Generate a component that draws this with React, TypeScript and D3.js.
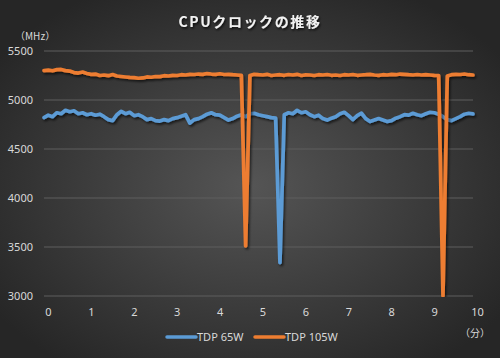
import React from "react";
import * as d3 from "d3";

const timeMin: number[] = d3.range(0, 101).map((i) => i / 10);

const tdp105: number[] = [
  5300, 5305, 5298, 5310, 5312, 5300, 5295, 5280, 5275, 5285,
  5270, 5262, 5265, 5250, 5255, 5248, 5260, 5245, 5240, 5235,
  5230, 5228, 5222, 5225, 5235, 5232, 5240, 5238, 5248, 5245,
  5252, 5250, 5258, 5255, 5262, 5260, 5265, 5262, 5270, 5265,
  5262, 5268, 5260, 5262, 5258, 5255, 5252, 3510, 5250, 5262,
  5258, 5255, 5262, 5250, 5255, 5258, 5252, 5260, 5255, 5262,
  5250, 5256, 5255, 5250, 5258, 5255, 5260, 5252, 5255, 5250,
  5258, 5255, 5260, 5252, 5255, 5258, 5262, 5255, 5252, 5258,
  5255, 5262, 5258, 5265, 5262, 5258, 5255, 5260, 5255, 5258,
  5255, 5252, 5250, 3000, 5245, 5258, 5262, 5260, 5265, 5258,
  5255,
];

const tdp65: number[] = [
  4820, 4845, 4830, 4870, 4860, 4895, 4880, 4890, 4860, 4870,
  4850, 4860, 4845, 4855, 4830, 4800, 4790, 4850, 4885, 4860,
  4875, 4840, 4850, 4830, 4800, 4810, 4790, 4785, 4800, 4790,
  4810, 4820, 4835, 4850, 4765, 4800, 4810, 4830, 4855, 4870,
  4850, 4845, 4820, 4795, 4810, 4835, 4850, 4830, 4860, 4865,
  4850, 4840, 4830, 4820, 4815, 3340, 4850, 4870, 4860, 4895,
  4870, 4880, 4850, 4830, 4845, 4810, 4795, 4815, 4830, 4860,
  4875, 4840, 4800, 4840, 4865, 4810, 4780, 4795, 4810, 4795,
  4780, 4790, 4815, 4830, 4850, 4845, 4865, 4850, 4840, 4860,
  4875, 4870, 4855, 4830, 4800, 4790, 4810, 4830, 4855, 4865,
  4858,
];

const yTicks: number[] = [3000, 3500, 4000, 4500, 5000, 5500];
const xTicks: number[] = [0, 1, 2, 3, 4, 5, 6, 7, 8, 9, 10];

const seriesNames = ["TDP 65W", "TDP 105W"];
const seriesColors = ["#5b9bd5", "#ed7d31"];

export default function App() {
  const W = 500;
  const H = 358;
  const x = d3.scaleLinear().domain([0, 10]).range([44, 473]);
  const y = d3.scaleLinear().domain([3000, 5500]).range([296, 51]);

  const line = d3
    .line<number>()
    .x((_, i) => x(timeMin[i]))
    .y((d) => y(d));

  const numFont = "'Noto Sans', 'Open Sans', sans-serif";
  const jpFont = "'Noto Sans CJK JP', 'Noto Sans', sans-serif";
  const txt = "#d9d9d9";

  const series = [tdp65, tdp105];

  return (
    <svg
      width={W}
      height={H}
      style={{ position: "absolute", left: 0, top: 0 }}
    >
      <defs>
        <radialGradient id="bg" cx="50%" cy="52%" r="62%">
          <stop offset="0%" stopColor="#555555" />
          <stop offset="100%" stopColor="#262626" />
        </radialGradient>
        <filter id="shadow" x="-20%" y="-20%" width="140%" height="140%">
          <feDropShadow dx="1.5" dy="2" stdDeviation="1.3" floodColor="#000" floodOpacity="0.6" />
        </filter>
        <filter id="tshadow" x="-20%" y="-50%" width="140%" height="200%">
          <feDropShadow dx="1" dy="1.5" stdDeviation="1" floodColor="#000" floodOpacity="0.8" />
        </filter>
        <clipPath id="plotClip">
          <rect x={40} y={40} width={440} height={y(3000) - 40 + 1} />
        </clipPath>
      </defs>
      <rect x={0} y={0} width={W} height={H} fill="url(#bg)" />

      <text
        x={250}
        y={27}
        textAnchor="middle"
        fill="#f2f2f2"
        fontFamily={jpFont}
        fontSize={14}
        fontWeight="bold"
        letterSpacing={1.6}
        filter="url(#tshadow)"
      >
        CPUクロックの推移
      </text>

      <text x={15} y={40} fill={txt} fontFamily={jpFont} fontSize={10}>
        （MHz）
      </text>

      {yTicks.map((t) => (
        <g key={t}>
          <line x1={44} x2={473} y1={y(t)} y2={y(t)} stroke="#5e5e5e" strokeWidth={1} />
          <text
            x={33}
            y={y(t)}
            dy="0.35em"
            textAnchor="end"
            fill={txt}
            fontFamily={numFont}
            fontSize={11}
          >
            {t}
          </text>
        </g>
      ))}

      {xTicks.map((t) => (
        <text
          key={t}
          x={x(t) + 4.5}
          y={316}
          textAnchor="middle"
          fill={txt}
          fontFamily={numFont}
          fontSize={11}
        >
          {t}
        </text>
      ))}

      <text x={460} y={337} fill={txt} fontFamily={jpFont} fontSize={10}>
        （分）
      </text>

      <g clipPath="url(#plotClip)">
        {series.map((s, i) => (
          <path
            key={i}
            d={line(s) || ""}
            fill="none"
            stroke={seriesColors[i]}
            strokeWidth={3.7}
            strokeLinejoin="round"
            strokeLinecap="round"
            filter="url(#shadow)"
          />
        ))}
      </g>

      {seriesNames.map((n, i) => {
        const lx = i === 0 ? 167 : 255;
        return (
          <g key={n}>
            <line x1={lx} x2={lx + 29} y1={337} y2={337} stroke={seriesColors[i]} strokeWidth={3.5} strokeLinecap="round" />
            <text x={lx + 30} y={341} fill={txt} fontFamily={numFont} fontSize={11}>
              {n}
            </text>
          </g>
        );
      })}
    </svg>
  );
}
